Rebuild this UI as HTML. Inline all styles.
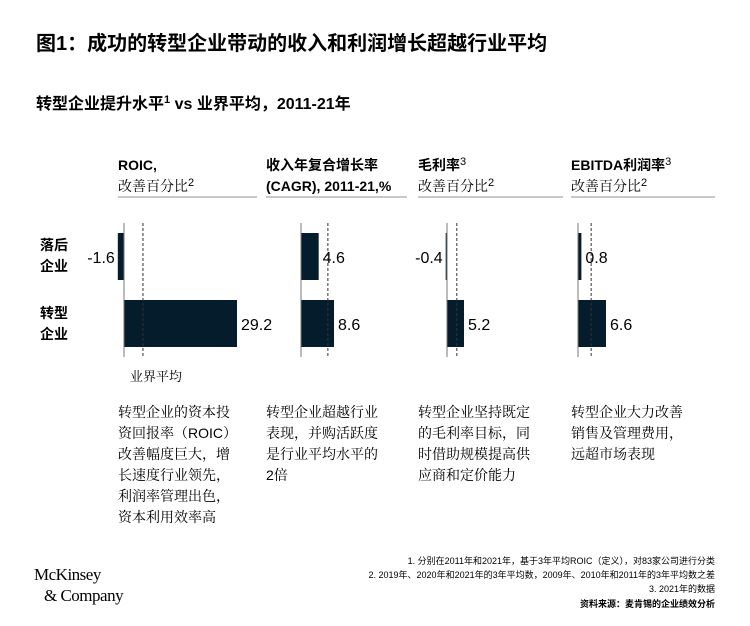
<!DOCTYPE html>
<html><head><meta charset="utf-8"><style>
body{margin:0;background:#fff;}
svg text{font-family:"Liberation Sans","Noto Sans CJK SC",sans-serif;fill:#000;}
svg text.serif{font-family:"Liberation Sans","Noto Serif CJK SC",serif;}
</style></head><body>
<svg id="c" width="750" height="621" viewBox="0 0 750 621" xmlns="http://www.w3.org/2000/svg">
<text x="36" y="50" font-size="20" font-weight="bold">图1：成功的转型企业带动的收入和利润增长超越行业平均</text>
<text x="36" y="109" font-size="16" font-weight="bold">转型企业提升水平<tspan font-size="11" dy="-6">1</tspan><tspan dy="6"> vs 业界平均，2011-21年</tspan></text>
<text x="40" y="250" font-size="14" font-weight="bold">落后</text>
<text x="40" y="271" font-size="14" font-weight="bold">企业</text>
<text x="40" y="318" font-size="14" font-weight="bold">转型</text>
<text x="40" y="339" font-size="14" font-weight="bold">企业</text>
<g id="panels"></g>
<text x="130" y="381" font-size="13" class="serif">业界平均</text>
<g font-size="14">
<text class="serif" x="118" y="417">转型企业的资本投</text>
<text class="serif" x="118" y="438">资回报率（ROIC）</text>
<text class="serif" x="118" y="459">改善幅度巨大，增</text>
<text class="serif" x="118" y="480">长速度行业领先，</text>
<text class="serif" x="118" y="501">利润率管理出色，</text>
<text class="serif" x="118" y="522">资本利用效率高</text>
<text class="serif" x="266" y="417">转型企业超越行业</text>
<text class="serif" x="266" y="438">表现，并购活跃度</text>
<text class="serif" x="266" y="459">是行业平均水平的</text>
<text class="serif" x="266" y="480">2倍</text>
<text class="serif" x="418" y="417">转型企业坚持既定</text>
<text class="serif" x="418" y="438">的毛利率目标，同</text>
<text class="serif" x="418" y="459">时借助规模提高供</text>
<text class="serif" x="418" y="480">应商和定价能力</text>
<text class="serif" x="571" y="417">转型企业大力改善</text>
<text class="serif" x="571" y="438">销售及管理费用，</text>
<text class="serif" x="571" y="459">远超市场表现</text>
</g>
<g font-size="9" text-anchor="end">
<text x="715" y="564">1.  分别在2011年和2021年，基于3年平均ROIC（定义），对83家公司进行分类</text>
<text x="715" y="578">2.  2019年、2020年和2021年的3年平均数，2009年、2010年和2011年的3年平均数之差</text>
<text x="715" y="592">3.  2021年的数据</text>
<text x="715" y="607" font-weight="bold">资料来源：麦肯锡的企业绩效分析</text>
</g>
<text x="34" y="580" font-size="17" style="font-family:'Liberation Serif',serif;letter-spacing:-0.5px">McKinsey</text>
<text x="44" y="601" font-size="17" style="font-family:'Liberation Serif',serif;letter-spacing:-0.5px">&amp; Company</text>
</svg>
<script>
const metrics=["ROIC","CAGR","GrossMargin","EBITDA"];
const laggingValues=[-1.6,4.6,-0.4,0.8];
const transformValues=[29.2,8.6,5.2,6.6];
const averageValues=[4.9,7.0,3.0,3.1];
const headerLine1=["ROIC,","收入年复合增长率","毛利率","EBITDA利润率"];
const headerSup1=["","","3","3"];
const headerLine2=["改善百分比","(CAGR), 2011-21,%","改善百分比","改善百分比"];
const headerSup2=["2","","2","2"];
const layout=[{x0:118,x1:257,ax:124,s:3.87},{x0:266,x1:407,ax:301,s:3.84},{x0:418,x1:563,ax:447,s:3.27},{x0:571,x1:715,ax:578,s:4.24}];
const NS="http://www.w3.org/2000/svg";
const g=document.getElementById('panels');
function mk(t,a,txt){const e=document.createElementNS(NS,t);for(const k in a)e.setAttribute(k,a[k]);if(txt!==undefined)e.textContent=txt;g.appendChild(e);return e;}
function sup(parent,s){if(!s)return;const ts=document.createElementNS(NS,'tspan');ts.setAttribute('font-size','11');ts.setAttribute('dy','-5');ts.setAttribute('font-weight','normal');ts.textContent=s;parent.appendChild(ts);}
metrics.forEach((m,i)=>{
 const L=layout[i];const xs=v=>L.ax+v*L.s;
 let e=mk('text',{x:L.x0,y:170,'font-size':14,'font-weight':'bold'},headerLine1[i]);
 sup(e,headerSup1[i]);
 
 e=mk('text',{x:L.x0,y:191,'font-size':14,'font-weight':i==1?'bold':'normal'},headerLine2[i]);
 if(i!=1)e.setAttribute('class','serif');
 sup(e,headerSup2[i]);
 
 e=mk('line',{x1:L.x0,x2:L.x1,y1:197,y2:197,stroke:'#b5b5b5','stroke-width':1.5});
 
 [[laggingValues[i],233,'lagging'],[transformValues[i],300,'transform']].forEach(([v,y,n])=>{
  const x=Math.min(xs(0),xs(v)),w=Math.max(Math.abs(xs(v)-xs(0)),1);
  let b=mk('rect',{x:x,y:y,width:w,height:47,fill:'#051c2c'});
  
  let t=mk('text',{x:v<0?xs(v)-3:xs(v)+4,y:y+30,'font-size':16,'text-anchor':v<0?'end':'start'},v.toFixed(1));
  
 });
 e=mk('line',{x1:xs(averageValues[i]),x2:xs(averageValues[i]),y1:223,y2:357,stroke:'#333','stroke-width':1,'stroke-dasharray':'3,2'});
 
 e=mk('line',{x1:L.ax,x2:L.ax,y1:223,y2:357,stroke:'#777','stroke-width':1});
 
});
</script>
</body></html>
